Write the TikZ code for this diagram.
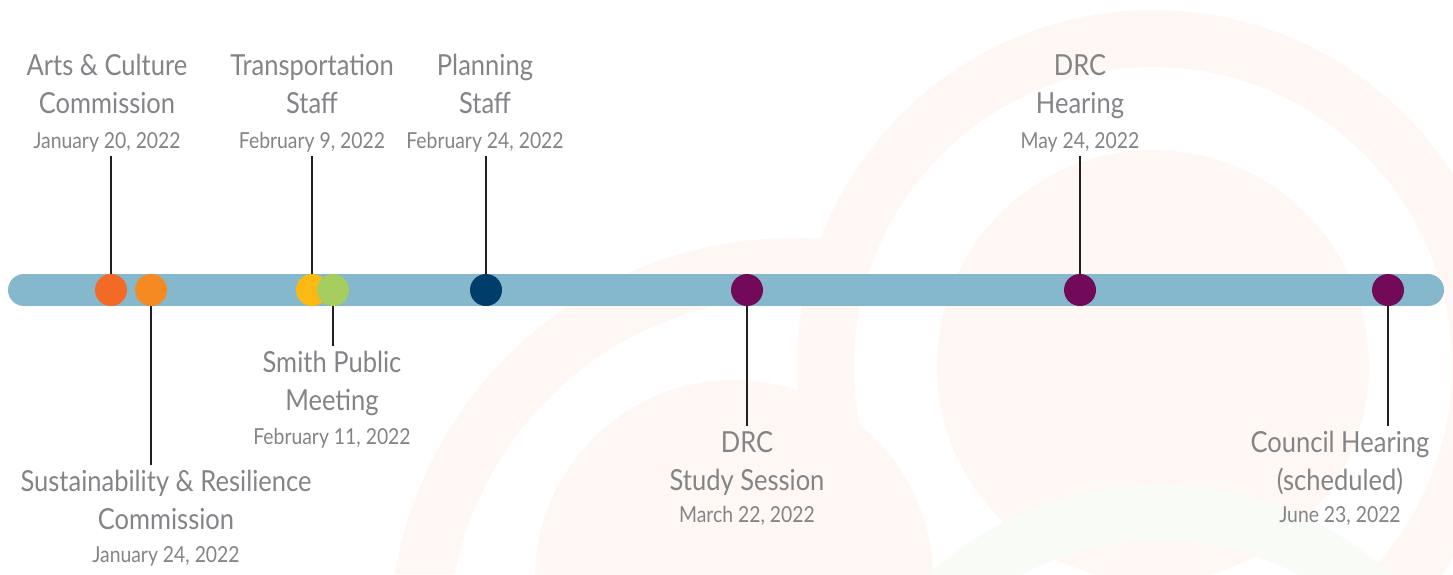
\documentclass[tikz,border=0pt]{standalone}
\usepackage{fontspec}
\setmainfont{Lato}[FakeStretch=0.88]
\usetikzlibrary{positioning}

\definecolor{barblue}{HTML}{85B7CD}
\definecolor{txtgray}{HTML}{838487}
\definecolor{stemgray}{HTML}{231F20}
\definecolor{evred}{HTML}{F26A26}
\definecolor{evorange}{HTML}{F58A22}
\definecolor{evyellow}{HTML}{FDB913}
\definecolor{evgreen}{HTML}{A6CE5E}
\definecolor{evnavy}{HTML}{003D6B}
\definecolor{evpurple}{HTML}{730A59}
\definecolor{bgpeach}{HTML}{FEF7F3}
\definecolor{bggreen}{HTML}{F9FBF6}

\tikzset{
  evt/.style={circle, fill=#1, minimum size=32pt, inner sep=0pt},
  ttl/.style={text=txtgray, align=center, inner sep=0pt, font=\fontsize{29}{38}\selectfont},
  dte/.style={text=txtgray, inner sep=0pt, font=\fontsize{22}{26}\selectfont},
  stem/.style={draw=stemgray, line width=2.8pt},
}

\begin{document}
\begin{tikzpicture}[x=1pt, y=-1pt]

\useasboundingbox (0,0) rectangle (1453,574);

% faint background rings
\begin{scope}
\clip (0,0) rectangle (1453,574);
\begin{scope}
\clip (0,0) -- (900,0) -- (830,270) -- (800,574) -- (0,574) -- cycle;
\fill[bgpeach, even odd rule] (793,642) circle[radius=404pt] (793,642) circle[radius=345pt];
\end{scope}
\fill[bgpeach] (734,579) circle[radius=199pt];
\fill[bgpeach, even odd rule] (1153,366) circle[radius=356pt] (1153,366) circle[radius=299pt];
\fill[bgpeach] (1153,366) circle[radius=216pt];
\fill[bggreen, even odd rule] (1160,830) circle[radius=345pt] (1160,830) circle[radius=290pt];
\end{scope}

% timeline bar
\draw[barblue, line width=32pt, line cap=round] (24,290) -- (1428,290);

% events
\node[evt=evred]    (e1) at (111,290) {};
\node[evt=evorange] (e2) at (151,290) {};
\node[evt=evyellow] (e3) at (312,290) {};
\node[evt=evgreen]  (e4) at (333,290) {};
\node[evt=evnavy]   (e5) at (486,290) {};
\node[evt=evpurple] (e6) at (747,290) {};
\node[evt=evpurple] (e7) at (1080,290) {};
\node[evt=evpurple] (e8) at (1388,290) {};

% labels above the bar
\node[dte, anchor=base] (d1) at (107,148) {\strut January 20, 2022};
\node[ttl, above=4.4pt of d1] (t1) {\strut Arts \& Culture\\\strut Commission};
\node[dte, anchor=base] (d3) at (312,148) {\strut February 9, 2022};
\node[ttl, above=4.4pt of d3] (t3) {\strut Transportation\\\strut Staff};
\node[dte, anchor=base] (d5) at (485,148) {\strut February 24, 2022};
\node[ttl, above=4.4pt of d5] (t5) {\strut Planning\\\strut Staff};
\node[dte, anchor=base] (d7) at (1080,148) {\strut May 24, 2022};
\node[ttl, above=4.4pt of d7] (t7) {\strut DRC\\\strut Hearing};

% labels below the bar
\node[ttl, anchor=north] (t2) at (166,465) {\strut Sustainability \& Resilience\\\strut Commission};
\node[dte, below=3pt of t2] (d2) {\strut January 24, 2022};
\node[ttl, anchor=north] (t4) at (332,346) {\strut Smith Public\\\strut Meeting};
\node[dte, below=4pt of t4] (d4) {\strut February 11, 2022};
\node[ttl, anchor=north] (t6) at (747,426) {\strut DRC\\\strut Study Session};
\node[dte, below=2pt of t6] (d6) {\strut March 22, 2022};
\node[ttl, anchor=north] (t8) at (1340,426) {\strut Council Hearing\\\strut (scheduled)};
\node[dte, below=2pt of t8] (d8) {\strut June 23, 2022};

% stems
\draw[stem] (e1) -- (e1 |- d1.south);
\draw[stem] (e3) -- (e3 |- d3.south);
\draw[stem] (e5) -- (e5 |- d5.south);
\draw[stem] (e7) -- (e7 |- d7.south);
\draw[stem] (e2) -- (e2 |- t2.north);
\draw[stem] (e4) -- (e4 |- t4.north);
\draw[stem] (e6) -- (e6 |- t6.north);
\draw[stem] (e8) -- (e8 |- t8.north);

\end{tikzpicture}
\end{document}
